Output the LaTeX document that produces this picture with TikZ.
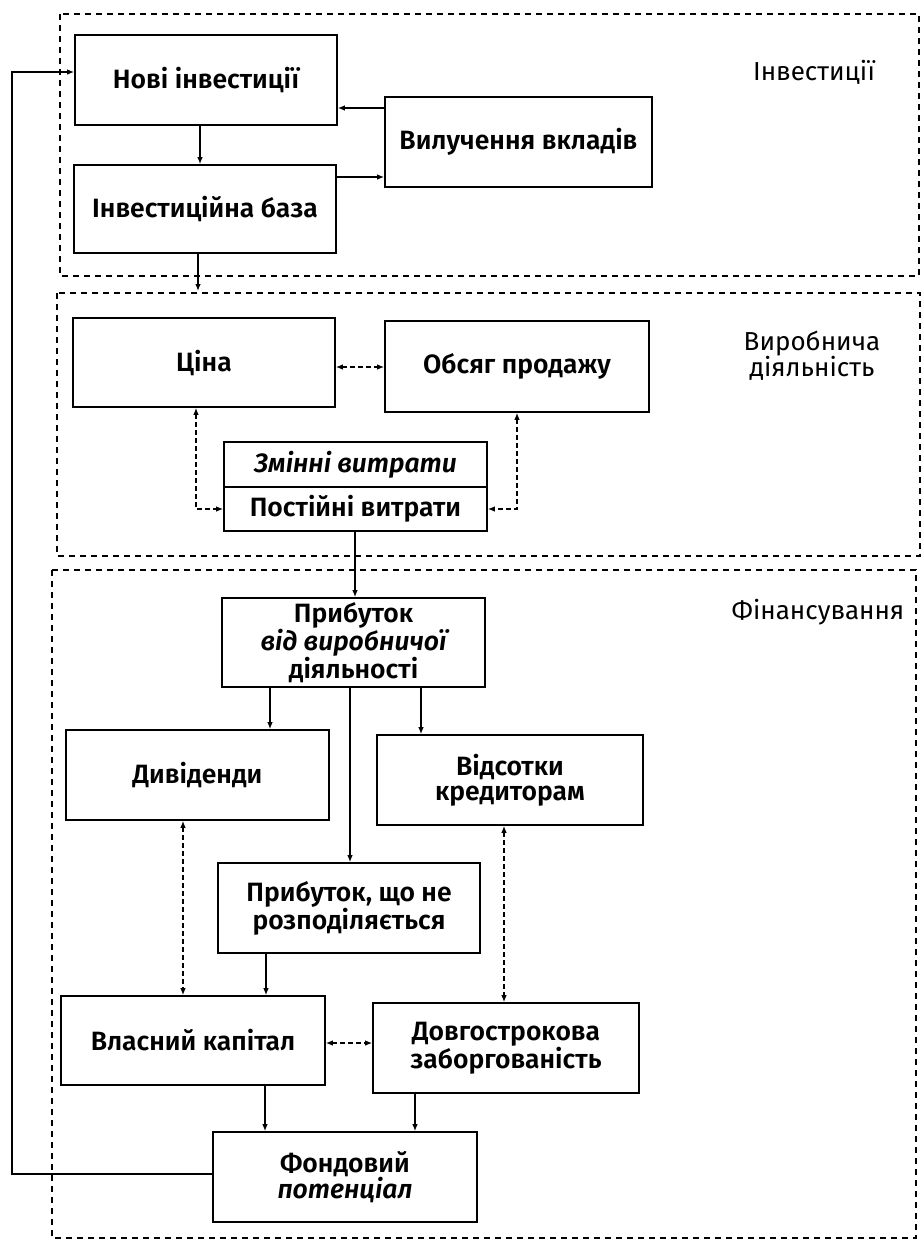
\documentclass[tikz,border=0pt]{standalone}
\usepackage{fontspec}
\setmainfont{Fira Sans}[BoldFont={Fira Sans SemiBold},BoldItalicFont={Fira Sans SemiBold Italic}]
\usetikzlibrary{arrows.meta,positioning}
\begin{document}
\begin{tikzpicture}[x=1pt,y=-1pt,
  box/.style={draw,line width=1.6pt,align=center,inner sep=2pt,
    font=\fontsize{26.5}{25}\selectfont\bfseries},
  half/.style={draw,line width=1.6pt,align=center,inner sep=0pt,
    minimum width=263pt,font=\fontsize{26.5}{25}\selectfont\bfseries},
  region/.style={draw,line width=1.8pt,dash pattern=on 6pt off 5pt},
  zone/.style={align=center,font=\fontsize{26}{26}\selectfont},
  flow/.style={line width=1.3pt,-{Latex[length=7pt,width=5.5pt]}},
  link/.style={line width=1.3pt,dash pattern=on 5pt off 3pt,
    {Latex[length=7pt,width=5.5pt]}-{Latex[length=7pt,width=5.5pt]}}]
\useasboundingbox (0,0) rectangle (922,1243);

% three dashed zones
\draw[region] (60,14) rectangle (919,276);
\draw[region] (57,293) rectangle (920,556);
\draw[region] (52,570) rectangle (916,1238);
\node[zone] (lInv) at (814,72) {Інвестиції};
\node[zone] (lVyr) at (812,356) {Виробнича\\діяльність};
\node[zone] (lFin) at (818,612) {Фінансування};

% boxes
\node[box,minimum width=262pt,minimum height=90pt] (nov) at (206,80) {Нові інвестиції};
\node[box,minimum width=262pt,minimum height=88pt] (baza) at (205,209) {Інвестиційна база};
\node[box,minimum width=267pt,minimum height=90pt] (vyl) at (518.5,142) {Вилучення вкладів};
\node[box,minimum width=262pt,minimum height=89pt] (tsina) at (204,362.5) {Ціна};
\node[box,minimum width=264pt,minimum height=91pt] (obs) at (517,366.5) {Обсяг продажу};
\node[half,minimum height=45pt] (zmin) at (355.5,464.5) {\itshape Змінні витрати};
\node[half,minimum height=44pt] (post) at (355.5,509) {Постійні витрати};
\node[box,minimum width=263pt,minimum height=89pt] (prib) at (353.5,642.5)
  {Прибуток\\\itshape від виробничої\\діяльності};
\node[box,minimum width=263pt,minimum height=90pt] (dyv) at (197.5,775) {Дивіденди};
\node[box,minimum width=266pt,minimum height=90pt] (vids) at (510,780) {Відсотки\\кредиторам};
\node[box,minimum width=262pt,minimum height=90pt] (nerozp) at (349,908) {Прибуток, що не\\розподіляється};
\node[box,minimum width=264pt,minimum height=89pt] (vlas) at (193,1040.5) {Власний капітал};
\node[box,minimum width=266pt,minimum height=90pt] (dovh) at (506,1048) {Довгострокова\\заборгованість};
\node[box,minimum width=264pt,minimum height=90pt] (fond) at (345,1177) {Фондовий\\\itshape потенціал};

% helper levels and columns
\coordinate (r108) at (0,108);
\coordinate (r177) at (0,177);
\coordinate (r367) at (0,367);
\coordinate (r1043) at (0,1043);
\coordinate (r1174) at (0,1174);
\coordinate (r72) at (0,72);
\coordinate (c200) at (200,0);
\coordinate (c198) at (198,0);
\coordinate (c196) at (196,0);
\coordinate (c517) at (517,0);
\coordinate (c355) at (355,0);
\coordinate (c270) at (270,0);
\coordinate (c350) at (350,0);
\coordinate (c421) at (421,0);
\coordinate (c183) at (183,0);
\coordinate (c266) at (266,0);
\coordinate (c504) at (504,0);
\coordinate (c265) at (265,0);
\coordinate (c415) at (415,0);
\coordinate (vyrTop) at (198,291);
\coordinate (loopBot) at (12,1174);
\coordinate (loopTop) at (12,72);

% investment flows
\draw[flow] (nov.south -| c200) -- (baza.north -| c200);
\draw[flow] (vyl.west |- r108) -- (nov.east |- r108);
\draw[flow] (baza.east |- r177) -- (vyl.west |- r177);
\draw[flow] (baza.south -| c198) -- (vyrTop);

% production links
\draw[link] (tsina.east |- r367) -- (obs.west |- r367);
\draw[link] (tsina.south -| c196) |- (post.west);
\draw[link] (obs.south -| c517) |- (post.east);
\draw[flow] (post.south -| c355) -- (prib.north -| c355);

% financing flows
\draw[flow] (prib.south -| c270) -- (dyv.north -| c270);
\draw[flow] (prib.south -| c421) -- (vids.north -| c421);
\draw[flow] (prib.south -| c350) -- (nerozp.north -| c350);
\draw[flow] (nerozp.south -| c266) -- (vlas.north -| c266);
\draw[link] (dyv.south -| c183) -- (vlas.north -| c183);
\draw[link] (vids.south -| c504) -- (dovh.north -| c504);
\draw[link] (vlas.east |- r1043) -- (dovh.west |- r1043);
\draw[flow] (vlas.south -| c265) -- (fond.north -| c265);
\draw[flow] (dovh.south -| c415) -- (fond.north -| c415);

% feedback to new investments
\draw[flow] (fond.west |- r1174) -- (loopBot) -- (loopTop) -- (nov.west |- r72);
\end{tikzpicture}
\end{document}
